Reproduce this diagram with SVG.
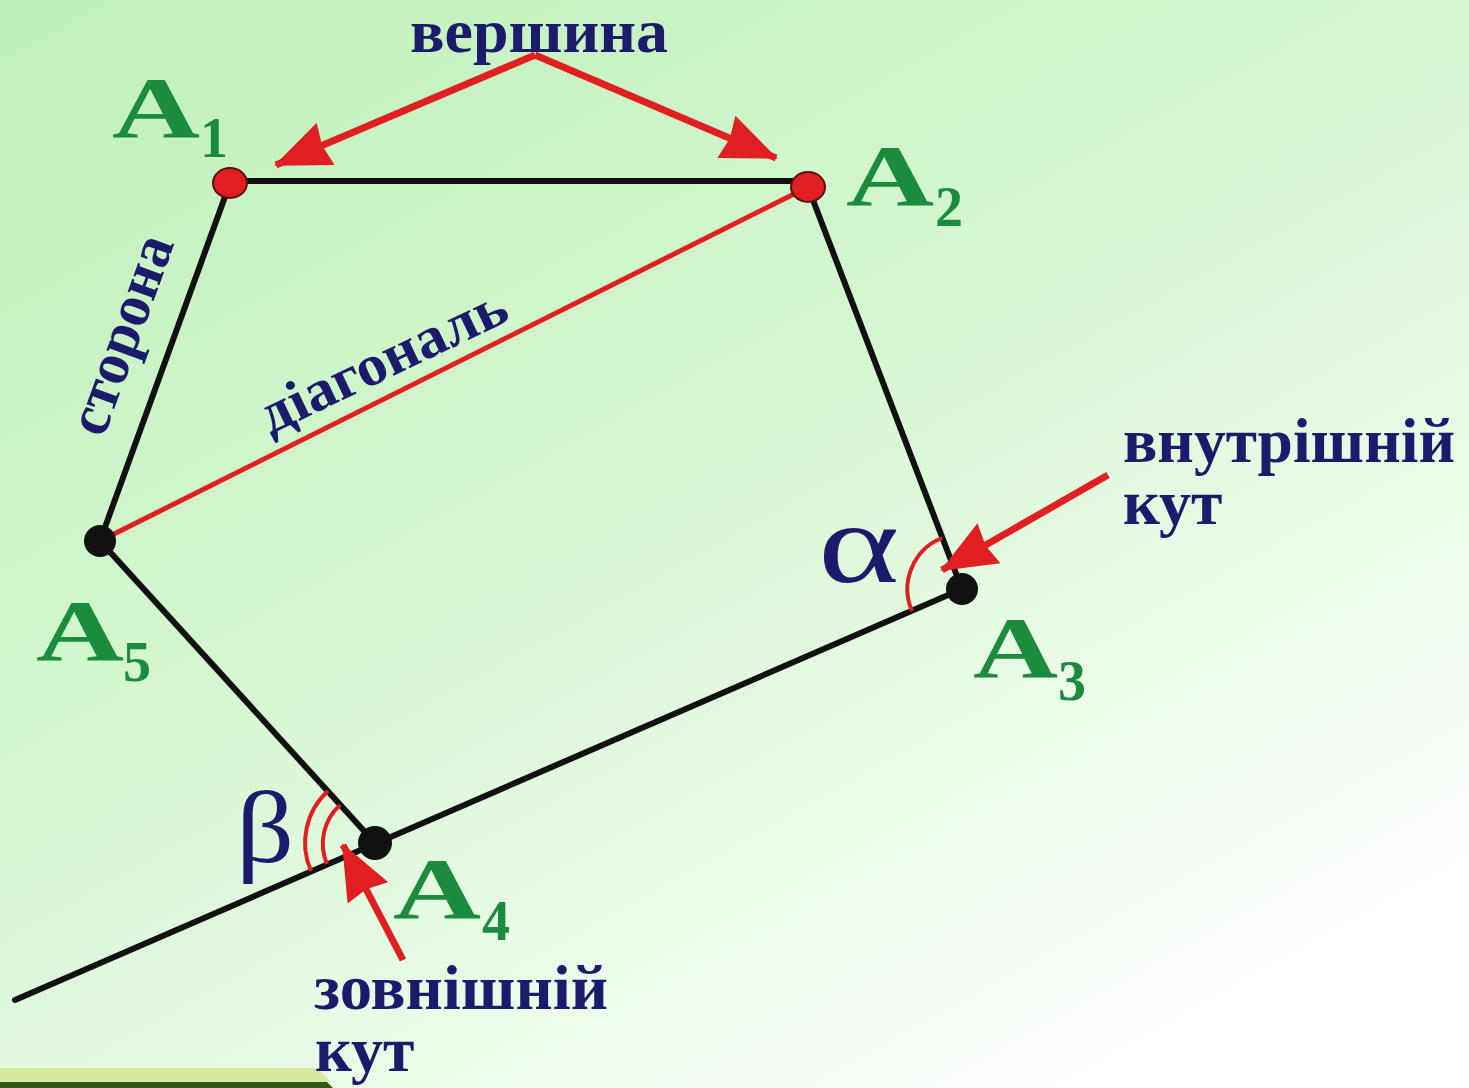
<svg xmlns="http://www.w3.org/2000/svg" width="1469" height="1088" viewBox="0 0 1469 1088">
<defs>
<linearGradient id="bg" x1="0" y1="0" x2="0.75" y2="1">
<stop offset="0" stop-color="#bff0ba"/>
<stop offset="0.5" stop-color="#d6f7d2"/>
<stop offset="1" stop-color="#ffffff"/>
</linearGradient>
<marker id="ah" markerUnits="userSpaceOnUse" viewBox="0 0 56 46" refX="54" refY="23" markerWidth="56" markerHeight="46" orient="auto">
<path d="M0,0 L56,23 L0,46 L4,23 z" fill="#e02020"/>
</marker>
<style>
.edge{stroke:#111;stroke-width:6;fill:none;stroke-linecap:round}
.diag{stroke:#e02020;stroke-width:5;fill:none}
.arr{stroke:#e02020;stroke-width:7;fill:none}
.arc{stroke:#e02020;stroke-width:4;fill:none}
.lbl{font-family:"Liberation Serif",serif;font-weight:bold;fill:#1c1a6b}
.vx{font-family:"Liberation Serif",serif;font-weight:bold;fill:#1a8c3c}
.big{font-size:86px}
.sub{font-size:56px}
.gr{font-family:"Liberation Serif",serif;fill:#1c1a6b}
.dotr{fill:#e02020;stroke:#5a1010;stroke-width:2}
.dotb{fill:#111}
</style>
</defs>
<rect width="1469" height="1088" fill="url(#bg)"/>
<polygon points="0,1068 317,1068 331,1082 0,1082" fill="#d4eaa0"/>
<polygon points="0,1082 327,1082 333,1088 0,1088" fill="#2d5a12"/>

<g id="connectors">
<line class="edge" x1="230" y1="181" x2="808" y2="181"/>
<line class="edge" x1="808" y1="187" x2="962" y2="589"/>
<line class="edge" x1="962" y1="589" x2="15" y2="1000"/>
<line class="edge" x1="375" y1="843" x2="100" y2="541"/>
<line class="edge" x1="100" y1="541" x2="230" y2="183"/>
<line class="diag" x1="100" y1="541" x2="808" y2="187"/>
<line class="arr" x1="535" y1="55" x2="276" y2="165" marker-end="url(#ah)"/>
<line class="arr" x1="535" y1="55" x2="776" y2="158" marker-end="url(#ah)"/>
<line class="arr" x1="1108" y1="475" x2="942" y2="570" marker-end="url(#ah)"/>
<line class="arr" x1="403" y1="960" x2="343" y2="845" marker-end="url(#ah)"/>
<path class="arc" d="M942,538 A55,55 0 0 0 912,611"/>
<path class="arc" d="M328,791 A70,70 0 0 0 311,871"/>
<path class="arc" d="M340,805 A52,52 0 0 0 327,864"/>
</g>

<g id="A1"><ellipse class="dotr" cx="230" cy="183" rx="17" ry="15"/>
<text class="vx big" x="112" y="137" textLength="88" lengthAdjust="spacingAndGlyphs">A</text><text class="vx sub" x="200" y="157">1</text></g>
<g id="A2"><ellipse class="dotr" cx="808" cy="187" rx="17" ry="15"/>
<text class="vx big" x="846" y="205" textLength="88" lengthAdjust="spacingAndGlyphs">A</text><text class="vx sub" x="935" y="226">2</text></g>
<g id="A3"><circle class="dotb" cx="962" cy="589" r="16"/>
<text class="vx big" x="973" y="677" textLength="85" lengthAdjust="spacingAndGlyphs">A</text><text class="vx sub" x="1058" y="700">3</text></g>
<g id="A4"><circle class="dotb" cx="375" cy="843" r="17"/>
<text class="vx big" x="393" y="918" textLength="88" lengthAdjust="spacingAndGlyphs">A</text><text class="vx sub" x="482" y="940">4</text></g>
<g id="A5"><circle class="dotb" cx="100" cy="541" r="16"/>
<text class="vx big" x="36" y="660" textLength="88" lengthAdjust="spacingAndGlyphs">A</text><text class="vx sub" x="123" y="681">5</text></g>

<g id="labels">
<text class="lbl" x="539" y="52" font-size="62" text-anchor="middle" textLength="258" lengthAdjust="spacingAndGlyphs">вершина</text>
<text class="lbl" font-size="60" text-anchor="middle" textLength="208" lengthAdjust="spacingAndGlyphs" transform="translate(139,341) rotate(-70)">сторона</text>
<text class="lbl" font-size="58" text-anchor="middle" textLength="268" lengthAdjust="spacingAndGlyphs" transform="translate(391,377) rotate(-25.5)">діагональ</text>
<text class="lbl" x="1123" y="462" font-size="64" textLength="332" lengthAdjust="spacingAndGlyphs">внутрішній</text>
<text class="lbl" x="1123" y="524" font-size="64">кут</text>
<text class="lbl" x="314" y="1009" font-size="64" textLength="294" lengthAdjust="spacingAndGlyphs">зовнішній</text>
<text class="lbl" x="315" y="1071" font-size="64">кут</text>
<text class="gr" font-size="115" transform="translate(818,582) scale(1.35,1)">α</text>
<text class="gr" font-size="102" transform="translate(236,862) scale(1.12,1)">β</text>
</g>
</svg>
